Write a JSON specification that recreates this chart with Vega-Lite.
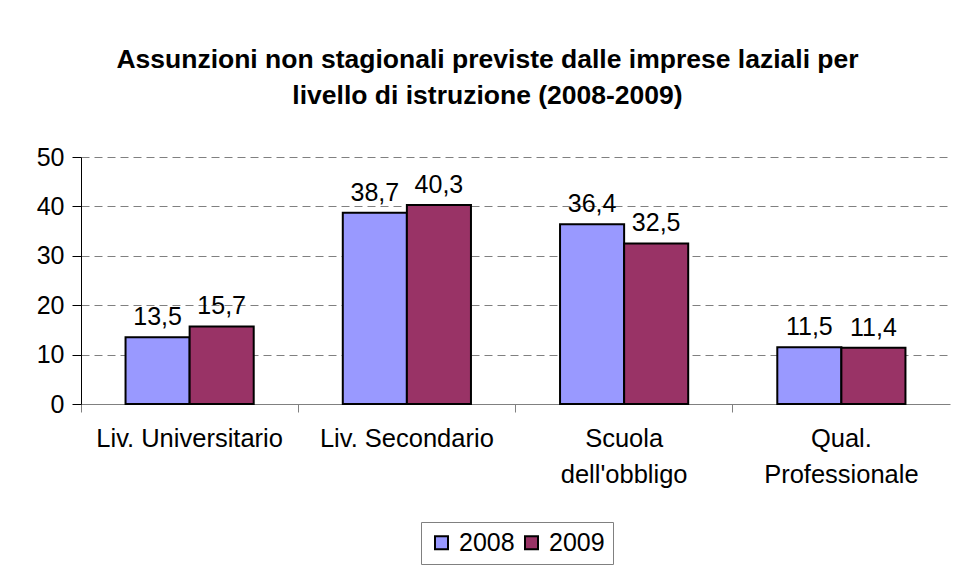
{
  "$schema": "https://vega.github.io/schema/vega-lite/v6.json",
  "width": 869,
  "height": 247,
  "autosize": {"type": "none"},
  "padding": {"left": 81, "top": 157, "right": 6, "bottom": 164},
  "background": "white",
  "title": {
    "text": ["Assunzioni non stagionali previste dalle imprese laziali per", "livello di istruzione (2008-2009)"],
    "fontSize": 26.5,
    "fontWeight": "bold",
    "font": "Liberation Sans",
    "color": "#000000",
    "anchor": "middle",
    "frame": "group",
    "dx": -28,
    "offset": 36,
    "lineHeight": 36
  },
  "data": {
    "values": [
      {"livello": "Liv. Universitario", "anno": "2008", "valore": 13.5},
      {"livello": "Liv. Universitario", "anno": "2009", "valore": 15.7},
      {"livello": "Liv. Secondario", "anno": "2008", "valore": 38.7},
      {"livello": "Liv. Secondario", "anno": "2009", "valore": 40.3},
      {"livello": "Scuola|dell'obbligo", "anno": "2008", "valore": 36.4},
      {"livello": "Scuola|dell'obbligo", "anno": "2009", "valore": 32.5},
      {"livello": "Qual.|Professionale", "anno": "2008", "valore": 11.5},
      {"livello": "Qual.|Professionale", "anno": "2009", "valore": 11.4}
    ]
  },
  "encoding": {
    "x": {
      "field": "livello",
      "type": "nominal",
      "sort": null,
      "title": null,
      "scale": {"paddingInner": 0, "paddingOuter": 0},
      "axis": {
        "labelExpr": "split(datum.label, '|')",
        "labelAngle": 0,
        "labelFontSize": 25.5,
        "labelFont": "Liberation Sans",
        "labelColor": "#000000",
        "labelLineHeight": 36,
        "labelPadding": 14,
        "bandPosition": 0,
        "ticks": true,
        "tickSize": 8,
        "tickColor": "#808080",
        "domainColor": "#808080",
        "grid": false,
        "labelLimit": 300
      }
    },
    "xOffset": {"field": "anno", "type": "nominal", "scale": {"paddingInner": 0, "paddingOuter": 0.695}},
    "y": {
      "field": "valore",
      "type": "quantitative",
      "title": null,
      "scale": {"domain": [0, 50]},
      "axis": {
        "values": [0, 10, 20, 30, 40, 50],
        "labelFontSize": 25,
        "labelFont": "Liberation Sans",
        "labelColor": "#000000",
        "tickSize": 9,
        "tickColor": "#000000",
        "labelPadding": 8,
        "domainColor": "#000000",
        "grid": true,
        "gridColor": "#808080",
        "gridDash": [8, 5],
        "gridWidth": 1
      }
    }
  },
  "layer": [
    {
      "mark": {"type": "bar", "stroke": "#000000", "strokeWidth": 2},
      "encoding": {
        "color": {
          "field": "anno",
          "type": "nominal",
          "scale": {"domain": ["2008", "2009"], "range": ["#9999FF", "#993366"]},
          "legend": {
            "title": null,
            "orient": "none",
            "direction": "horizontal",
            "legendX": 340,
            "legendY": 365,
            "symbolType": "square",
            "symbolSize": 169,
            "symbolStrokeColor": "#000000",
            "symbolStrokeWidth": 2,
            "labelFontSize": 25,
            "labelFont": "Liberation Sans",
            "labelColor": "#000000",
            "strokeColor": "#808080",
            "padding": 8,
            "columnPadding": 4,
            "symbolOffset": 0,
            "labelOffset": 5
          }
        }
      }
    },
    {
      "mark": {"type": "text", "dy": -7, "baseline": "bottom", "fontSize": 25, "font": "Liberation Sans", "color": "#000000"},
      "encoding": {
        "text": {"field": "valore", "type": "quantitative", "format": ".1f"}
      }
    }
  ],
  "config": {
    "view": {"stroke": null},
    "locale": {
      "number": {"decimal": ",", "thousands": ".", "grouping": [3], "currency": ["€", ""]}
    }
  }
}
